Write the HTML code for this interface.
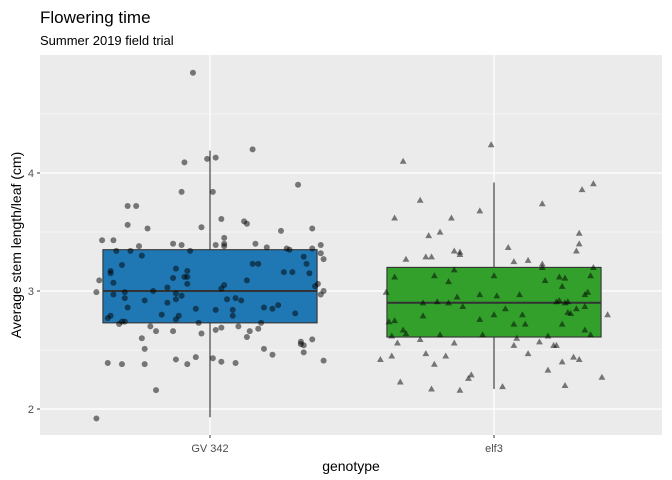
<!DOCTYPE html>
<html><head><meta charset="utf-8"><style>
body{margin:0;background:#fff;}
svg{display:block;font-family:"Liberation Sans",Arial,sans-serif;}
</style></head><body>
<svg id="chart" width="672" height="480">
<text x="40" y="23" font-size="17" fill="#000">Flowering time</text>
<text x="40" y="45" font-size="13" fill="#000">Summer 2019 field trial</text>
<rect x="40" y="55" width="622" height="380" fill="#EBEBEB"/>
<g id="grid"></g>
<g id="boxes"></g>
<g id="points"></g>
<g id="axes"></g>
<text x="351" y="471" font-size="14" text-anchor="middle" fill="#000">genotype</text>
<text transform="translate(21,245) rotate(-90)" font-size="14" text-anchor="middle" fill="#000">Average stem length/leaf (cm)</text>
</svg>
<script>
const categories = ["GV 342", "elf3"];
const yTicks = [2, 3, 4];
const yMinor = [2.5, 3.5, 4.5];
const boxLower = [1.93, 2.17];
const boxQ1 = [2.73, 2.61];
const boxMedian = [3.0, 2.9];
const boxQ3 = [3.35, 3.2];
const boxUpper = [4.19, 3.92];
const boxColors = ["#1F78B4", "#33A02C"];
const gvValues = [4.85,4.20,4.09,4.12,4.13,3.90,3.84,3.84,3.72,3.72,3.56,3.53,3.54,3.61,3.59,3.57,3.51,3.53,3.43,3.43,3.38,3.40,3.39,3.45,3.40,3.38,3.39,3.40,3.37,3.36,3.35,3.36,3.39,3.32,3.27,3.29,3.23,3.15,3.34,3.34,3.30,3.34,3.22,3.17,3.15,3.07,3.09,2.99,2.97,2.99,2.94,2.86,2.79,2.77,2.74,2.74,2.72,3.19,3.11,3.17,3.12,3.12,3.06,3.03,3.00,2.98,2.96,2.93,2.92,2.90,2.85,2.80,2.79,2.76,3.23,3.23,3.09,3.05,3.02,3.16,3.16,3.04,3.06,3.00,2.97,2.93,2.94,2.92,2.84,2.84,2.79,2.86,2.85,2.88,2.81,2.73,2.73,2.70,2.66,2.66,2.64,2.67,2.69,2.70,2.66,2.68,2.61,2.60,2.51,2.57,2.55,2.54,2.59,2.48,2.51,2.46,2.41,2.39,2.38,2.38,2.42,2.38,2.44,2.43,2.40,2.39,2.16,1.92];
const gvJitter = [-0.06,0.15,-0.09,-0.01,0.02,0.31,-0.10,0.01,-0.29,-0.26,-0.29,-0.22,-0.03,0.04,0.12,0.13,0.25,0.36,-0.38,-0.34,-0.25,-0.13,-0.10,0.05,0.05,0.05,0.02,0.16,0.20,0.27,0.28,0.36,0.39,0.39,0.40,0.33,0.34,0.35,-0.33,-0.28,-0.24,-0.07,-0.31,-0.35,-0.35,-0.34,-0.39,-0.40,-0.34,-0.30,-0.30,-0.29,-0.35,-0.36,-0.31,-0.30,-0.32,-0.12,-0.13,-0.08,-0.08,-0.09,-0.08,-0.15,-0.20,-0.12,-0.10,-0.12,-0.23,-0.15,-0.05,-0.17,-0.11,-0.12,0.15,0.17,0.13,0.05,0.04,0.26,0.29,0.37,0.38,0.40,0.39,0.06,0.09,0.11,0.02,0.08,0.08,0.19,0.22,0.24,0.30,0.18,-0.04,-0.21,-0.19,-0.13,-0.03,0.02,0.04,0.10,0.14,0.17,0.13,-0.24,-0.23,0.32,0.32,0.33,0.36,0.33,0.19,0.22,0.40,-0.36,-0.31,-0.23,-0.12,-0.08,-0.05,0.01,0.04,0.09,-0.19,-0.40];
const elfValues = [4.24,4.10,3.91,3.86,3.77,3.68,3.74,3.62,3.62,3.50,3.47,3.49,3.40,3.34,3.37,3.34,3.33,3.31,3.29,3.29,3.27,3.25,3.26,3.23,3.20,3.20,3.18,3.12,3.13,3.13,3.13,3.12,3.11,3.09,3.08,3.04,2.99,2.97,2.96,2.97,2.95,2.99,2.97,2.91,2.92,2.91,2.91,2.90,2.90,2.90,2.87,2.87,2.85,2.85,2.82,2.81,2.80,2.80,2.79,2.80,2.76,2.75,2.74,2.72,2.72,2.72,2.67,2.64,2.67,2.62,2.63,2.63,2.62,2.63,2.60,2.59,2.56,2.56,2.54,2.57,2.54,2.54,2.47,2.45,2.42,2.47,2.45,2.38,2.44,2.42,2.40,2.33,2.29,2.26,2.23,2.27,2.19,2.20,2.17,2.16];
const elfJitter = [-0.01,-0.32,0.35,0.31,-0.26,-0.05,0.17,-0.35,-0.15,-0.19,-0.23,0.30,0.30,0.29,0.05,-0.14,-0.12,-0.12,-0.24,-0.22,-0.31,0.07,0.12,0.17,0.17,0.35,-0.14,-0.35,-0.21,0.00,0.34,0.23,0.25,0.18,-0.16,0.24,-0.38,-0.05,0.01,0.09,-0.13,0.33,0.32,-0.20,0.23,0.22,0.26,-0.25,-0.16,0.25,-0.11,0.32,0.29,0.04,0.26,0.27,0.00,0.10,-0.25,0.40,-0.05,-0.35,-0.37,0.07,0.11,0.24,-0.32,-0.31,0.32,-0.36,-0.19,-0.04,0.19,0.34,0.08,-0.26,-0.34,-0.14,0.07,0.16,0.21,0.22,0.12,-0.36,-0.40,-0.24,-0.17,-0.21,0.28,0.30,0.24,0.19,-0.08,-0.09,-0.33,0.38,0.03,0.25,-0.22,-0.12];

const NS = "http://www.w3.org/2000/svg";
const PX0 = 210, CAT = 284, Y3 = 291, YU = 118;
function xScale(i, j) { return PX0 + (i + j) * CAT; }
function yScale(v) { return Y3 - (v - 3) * YU; }
function mk(tag, attrs, parent) {
  const e = document.createElementNS(NS, tag);
  for (const k in attrs) e.setAttribute(k, attrs[k]);
  parent.appendChild(e); return e;
}
const grid = document.getElementById('grid');
yMinor.forEach(v => {
  const l = mk('line', {x1:40, x2:662, y1:yScale(v), y2:yScale(v), stroke:'#fff', 'stroke-width':0.6}, grid);
  
  
});
yTicks.forEach(v => {
  const l = mk('line', {x1:40, x2:662, y1:yScale(v), y2:yScale(v), stroke:'#fff', 'stroke-width':1.2}, grid);
  
  
});
categories.forEach((c, i) => {
  const l = mk('line', {x1:xScale(i,0), x2:xScale(i,0), y1:55, y2:435, stroke:'#fff', 'stroke-width':1.2}, grid);
  
  
});
const boxes = document.getElementById('boxes');
const HW = 0.377;
categories.forEach((c, i) => {
  const g = mk('g', {}, boxes);
  
  
  const cx = xScale(i, 0);
  mk('line', {x1:cx, x2:cx, y1:yScale(boxLower[i]), y2:yScale(boxQ1[i]), stroke:'#333', 'stroke-width':1.1}, g);
  mk('line', {x1:cx, x2:cx, y1:yScale(boxQ3[i]), y2:yScale(boxUpper[i]), stroke:'#333', 'stroke-width':1.1}, g);
  mk('rect', {x:xScale(i,-HW), width:2*HW*CAT, y:yScale(boxQ3[i]), height:yScale(boxQ1[i]) - yScale(boxQ3[i]), fill:boxColors[i], stroke:'#333', 'stroke-width':1.1}, g);
  mk('line', {x1:xScale(i,-HW), x2:xScale(i,HW), y1:yScale(boxMedian[i]), y2:yScale(boxMedian[i]), stroke:'#333', 'stroke-width':2}, g);
});
const pts = document.getElementById('points');
gvValues.forEach((v, k) => {
  const c = mk('circle', {cx:xScale(0, gvJitter[k]), cy:yScale(v), r:3, fill:'#000', 'fill-opacity':0.5}, pts);
  
  
});
elfValues.forEach((v, k) => {
  const x = xScale(1, elfJitter[k]), y = yScale(v);
  const t = mk('polygon', {points:`${x},${y-3.4} ${x-3.4},${y+2.6} ${x+3.4},${y+2.6}`, fill:'#000', 'fill-opacity':0.5}, pts);
  
  
});
const axes = document.getElementById('axes');
yTicks.forEach(v => {
  mk('line', {x1:37, x2:40, y1:yScale(v), y2:yScale(v), stroke:'#333', 'stroke-width':1}, axes);
  const t = mk('text', {x:34, y:yScale(v)+4, 'font-size':11, 'text-anchor':'end', fill:'#4D4D4D'}, axes);
  t.textContent = v;
  
  
});
categories.forEach((c, i) => {
  mk('line', {x1:xScale(i,0), x2:xScale(i,0), y1:435, y2:438, stroke:'#333', 'stroke-width':1}, axes);
  const t = mk('text', {x:xScale(i,0), y:452, 'font-size':11, 'text-anchor':'middle', fill:'#4D4D4D'}, axes);
  t.textContent = c;
  
  
});
</script>
</body></html>
